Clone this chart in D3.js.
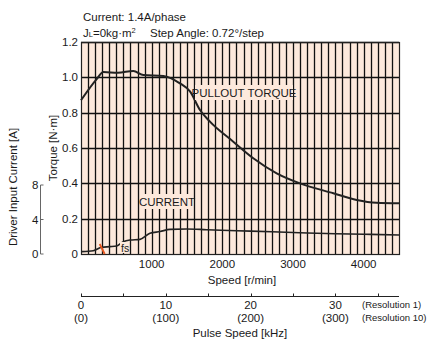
<!DOCTYPE html>
<html><head><meta charset="utf-8">
<script src="https://cdn.jsdelivr.net/npm/d3@7"></script>
<style>
body{margin:0;background:#fff;}
svg text{font-family:"Liberation Sans Narrow","Arial Narrow","Liberation Sans",Arial,sans-serif;fill:#1a1a1a;}
</style></head><body>
<svg id="c" width="427" height="341"></svg>
<script>
// Data
const torqueSpeed = [0, 222, 316, 523, 740, 882, 1165, 1400, 1542, 1684, 1825, 2155, 2438, 2769, 3099, 3571, 3901, 4184, 4500];
const torqueValues = [0.87, 0.99, 1.03, 1.026, 1.036, 1.013, 1.008, 0.966, 0.92, 0.815, 0.749, 0.636, 0.542, 0.457, 0.40, 0.344, 0.306, 0.29, 0.287];
const currentSpeed = [10, 174, 292, 410, 505, 599, 693, 835, 976, 1118, 1259, 1495, 1778, 2200, 2700, 3099, 3600, 4100, 4500];
const currentValues = [0.27, 0.38, 0.78, 0.85, 0.93, 1.43, 1.62, 1.7, 2.4, 2.6, 2.86, 2.9, 2.82, 2.7, 2.58, 2.47, 2.35, 2.27, 2.2];
const torqueTicks = [0, 0.2, 0.4, 0.6, 0.8, 1.0, 1.2];
const speedTicks = [1000, 2000, 3000, 4000];
const currentTicks = [0, 4, 8];
const pulseTicks = [0, 5, 10, 15, 20, 25, 30, 35];
const pulseLabels = [0, 10, 20, 30];
const pulseLabels10 = ["(0)", "(100)", "(200)", "(300)"];
const fsSpeed = 300;

const svg = d3.select("#c");
const L = 81, R = 399, T = 42, B = 254;
const x = d3.scaleLinear().domain([0, 4500]).range([L, R]);
const y = d3.scaleLinear().domain([0, 1.2]).range([B, T]);
const yc = d3.scaleLinear().domain([0, 8]).range([B, 185]);
// pulse kHz -> r/min : 0.72 deg/step => 120 r/min per kHz
const xp = d3.scaleLinear().domain([0, 4500 / 120]).range([L, R]);
const snap = v => Math.round(v) + 0.5;

// background
svg.append("rect").attr("x", L).attr("y", T).attr("width", R - L).attr("height", B - T).attr("fill", "#fde9dc");
// vertical grid every 100 r/min
svg.append("g").selectAll("line").data(d3.range(100, 4500, 100)).join("line")
  .attr("x1", d => snap(x(d))).attr("x2", d => snap(x(d))).attr("y1", T).attr("y2", B)
  .attr("stroke", "#111").attr("stroke-width", 1.3);
// horizontal grid
svg.append("g").selectAll("line").data(torqueTicks.slice(1)).join("line")
  .attr("x1", L).attr("x2", R).attr("y1", d => snap(y(d))).attr("y2", d => snap(y(d)))
  .attr("stroke", "#111").attr("stroke-width", 1.3);
// frame
svg.append("rect").attr("x", L + 0.5).attr("y", T + 0.5).attr("width", R - L).attr("height", B - T)
  .attr("fill", "none").attr("stroke", "#222").attr("stroke-width", 1.2);

// torque axis labels
svg.append("g").selectAll("text").data(torqueTicks).join("text")
  .attr("x", L - 3).attr("y", d => y(d) + 4).attr("text-anchor", "end")
  .attr("font-size", 11.5).text(d => d === 0 ? "0" : d.toFixed(1));
// speed tick labels
svg.append("g").selectAll("text").data(speedTicks).join("text")
  .attr("x", d => x(d)).attr("y", B + 14).attr("text-anchor", "middle")
  .attr("font-size", 11.5).text(d => d);
svg.append("text").attr("x", 242).attr("y", 284).attr("text-anchor", "middle").attr("font-size", 11.5).text("Speed [r/min]");

// current axis
const cax = 40.5;
svg.append("line").attr("x1", cax).attr("x2", cax).attr("y1", yc(0)).attr("y2", yc(8)).attr("stroke", "#666").attr("stroke-width", 1);
svg.append("g").selectAll("line").data(currentTicks).join("line")
  .attr("x1", cax).attr("x2", cax + 3).attr("y1", d => yc(d)).attr("y2", d => yc(d)).attr("stroke", "#666");
svg.append("g").selectAll("text").data(currentTicks).join("text")
  .attr("x", cax - 2).attr("y", d => yc(d) + 4).attr("text-anchor", "end").attr("font-size", 11.5).text(d => d);
svg.append("text").attr("transform", "translate(17,187) rotate(-90)").attr("text-anchor", "middle").attr("font-size", 11.5).text("Driver Input Current [A]");
svg.append("text").attr("transform", "translate(57,148) rotate(-90)").attr("text-anchor", "middle").attr("font-size", 11.5).text("Torque [N\u00b7m]");

// titles
svg.append("text").attr("x", 83).attr("y", 21).attr("font-size", 11.5).text("Current: 1.4A/phase");
const t2 = svg.append("text").attr("x", 83).attr("y", 37).attr("font-size", 11.5);
t2.append("tspan").text("J");
t2.append("tspan").attr("font-size", 7.5).text("L");
t2.append("tspan").text("=0kg\u00b7m");
t2.append("tspan").attr("font-size", 7.5).attr("dy", -4).text("2");
t2.append("tspan").attr("x", 150).attr("dy", 4).text("Step Angle: 0.72\u00b0/step");

// curves
const lineT = d3.line().x(d => x(d[0])).y(d => y(d[1])).curve(d3.curveMonotoneX);
svg.append("path").datum(d3.zip(torqueSpeed, torqueValues)).attr("d", lineT)
  .attr("fill", "none").attr("stroke", "#222").attr("stroke-width", 2);
const lineC = d3.line().x(d => x(d[0])).y(d => yc(d[1])).curve(d3.curveMonotoneX);
svg.append("path").datum(d3.zip(currentSpeed, currentValues)).attr("d", lineC)
  .attr("fill", "none").attr("stroke", "#222").attr("stroke-width", 1.6);

// labels with background
function boxLabel(cx, cy, txt, w) {
  svg.append("rect").attr("x", cx - w / 2).attr("y", cy - 8).attr("width", w).attr("height", 15).attr("fill", "#fde9dc");
  svg.append("text").attr("x", cx).attr("y", cy + 4).attr("text-anchor", "middle").attr("font-size", 11.5).text(txt);
}
boxLabel(244, 93, "PULLOUT TORQUE", 98);
boxLabel(167, 202, "CURRENT", 50);

// fs marker
svg.append("line").attr("x1", x(fsSpeed) - 2.5).attr("y1", 244).attr("x2", x(fsSpeed) + 2.5).attr("y2", 254)
  .attr("stroke", "#e8571e").attr("stroke-width", 1.8);
svg.append("rect").attr("x", 120).attr("y", 242).attr("width", 9).attr("height", 11).attr("fill", "#fde9dc");
svg.append("text").attr("x", 121).attr("y", 252).attr("font-size", 10.5).text("fs");

// pulse axis
const py = 296.5;
svg.append("line").attr("x1", L).attr("x2", R).attr("y1", py).attr("y2", py).attr("stroke", "#222").attr("stroke-width", 1.2);
svg.append("g").selectAll("line").data(pulseTicks).join("line")
  .attr("x1", d => snap(xp(d))).attr("x2", d => snap(xp(d))).attr("y1", py).attr("y2", py - 3).attr("stroke", "#222");
svg.append("g").selectAll("text").data(pulseLabels).join("text")
  .attr("x", d => xp(d)).attr("y", 309).attr("text-anchor", "middle").attr("font-size", 11.5).text(d => d);
svg.append("g").selectAll("text").data(pulseLabels10).join("text")
  .attr("x", (d, i) => xp(pulseLabels[i])).attr("y", 322).attr("text-anchor", "middle").attr("font-size", 11.5).text(d => d);
svg.append("text").attr("x", 362).attr("y", 308).attr("font-size", 9.5).text("(Resolution 1)");
svg.append("text").attr("x", 362).attr("y", 321).attr("font-size", 9.5).text("(Resolution 10)");
svg.append("text").attr("x", 240).attr("y", 337).attr("text-anchor", "middle").attr("font-size", 11.5).text("Pulse Speed [kHz]");
</script></body></html>
